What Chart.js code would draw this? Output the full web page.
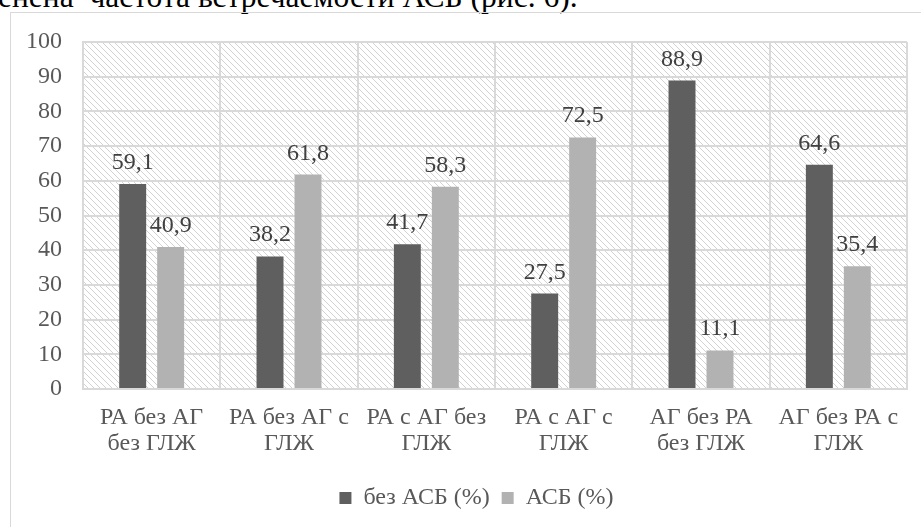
<!DOCTYPE html>
<html>
<head>
<meta charset="utf-8">
<script src="https://cdn.jsdelivr.net/npm/chart.js@4"></script>
<style>
  html, body { margin: 0; padding: 0; background: #fff; overflow: hidden; }
  #wrap { position: relative; width: 921px; height: 527px; overflow: hidden; }
  #para { position: absolute; left: -2px; top: -19px; font-family: "Liberation Serif", serif; font-size: 31.5px; line-height: 1; color: #000; white-space: pre; }
  #frame { position: absolute; left: 10px; top: 12px; width: 1000px; height: 1000px; border-left: 1.5px solid #d9d9d9; border-top: 1.5px solid #d9d9d9; }
  canvas { position: absolute; left: 0; top: 0; }
</style>
</head>
<body>
<div id="wrap">
  <div id="para">енена  частота встречаемости АСБ (рис. 6).</div>
  <div id="frame"></div>
  <canvas id="c" width="921" height="527"></canvas>
</div>
<script>
const categories = [
  ["РА без АГ", "без ГЛЖ"],
  ["РА без АГ с", "ГЛЖ"],
  ["РА с АГ без", "ГЛЖ"],
  ["РА с АГ с", "ГЛЖ"],
  ["АГ без РА", "без ГЛЖ"],
  ["АГ без РА с", "ГЛЖ"]
];
const seriesNames = ["без АСБ (%)", "АСБ (%)"];
const withoutASB = [59.1, 38.2, 41.7, 27.5, 88.9, 64.6];
const withASB = [40.9, 61.8, 58.3, 72.5, 11.1, 35.4];
const yTicks = [0, 10, 20, 30, 40, 50, 60, 70, 80, 90, 100];

const FONT = "'Liberation Serif', 'Times New Roman', serif";
const FS = 24;

function makeHatch() {
  const s = 6;
  const c = document.createElement('canvas');
  c.width = s; c.height = s;
  const g = c.getContext('2d');
  g.fillStyle = '#ffffff';
  g.fillRect(0, 0, s, s);
  g.strokeStyle = '#d2d2d2';
  g.lineWidth = 1;
  for (let k = -1; k <= 1; k++) {
    g.beginPath();
    g.moveTo(k * s, 0);
    g.lineTo(k * s + s, s);
    g.stroke();
  }
  return c;
}
const hatchCanvas = makeHatch();

const hatchBg = {
  id: 'hatchBg',
  beforeDraw(chart) {
    const { ctx, chartArea: a } = chart;
    ctx.save();
    ctx.fillStyle = ctx.createPattern(hatchCanvas, 'repeat');
    ctx.fillRect(a.left, a.top, a.right - a.left, a.bottom - a.top);
    ctx.restore();
  }
};

// the original chart frame is wider than the visible crop, so its legend is centred further right
const legendShift = {
  id: 'legendShift',
  afterLayout(chart) {
    if (chart.legend) {
      chart.legend.left += 23;
      chart.legend.right += 23;
    }
  }
};

const valueLabels = {
  id: 'valueLabels',
  afterDatasetsDraw(chart) {
    const ctx = chart.ctx;
    ctx.save();
    ctx.font = FS + "px " + FONT;
    ctx.fillStyle = '#404040';
    ctx.textAlign = 'center';
    ctx.textBaseline = 'alphabetic';
    chart.data.datasets.forEach((ds, di) => {
      const meta = chart.getDatasetMeta(di);
      meta.data.forEach((bar, i) => {
        const txt = ds.data[i].toFixed(1).replace('.', ',');
        ctx.fillText(txt, bar.x, bar.y - 15);
      });
    });
    ctx.restore();
  }
};

new Chart(document.getElementById('c'), {
  type: 'bar',
  data: {
    labels: categories,
    datasets: [
      { label: seriesNames[0], data: withoutASB, backgroundColor: '#5f5f5f', borderWidth: 0 },
      { label: seriesNames[1], data: withASB, backgroundColor: '#b2b2b2', borderWidth: 0 }
    ]
  },
  options: {
    responsive: false,
    devicePixelRatio: 1,
    animation: false,
    categoryPercentage: 0.553,
    barPercentage: 0.71,
    layout: { padding: { left: 0, right: 14, top: 42, bottom: 7 } },
    plugins: {
      tooltip: { enabled: false },
      legend: {
        position: 'bottom',
        labels: {
          color: '#595959',
          font: { family: FONT, size: FS },
          boxWidth: 12,
          boxHeight: 12,
          padding: 12
        }
      }
    },
    scales: {
      x: {
        grid: { color: '#d9d9d9', lineWidth: 2, drawTicks: false, offset: true },
        border: { color: '#d9d9d9', width: 2 },
        ticks: {
          color: '#595959',
          font: { family: FONT, size: FS, lineHeight: 1.08 },
          padding: 16,
          maxRotation: 0,
          autoSkip: false
        },
        afterFit(scale) { scale.height = 85; }
      },
      y: {
        min: 0,
        max: 100,
        afterBuildTicks(scale) { scale.ticks = yTicks.map(v => ({ value: v })); },
        grid: { color: '#d9d9d9', lineWidth: 2, drawTicks: false },
        border: { color: '#d9d9d9', width: 2 },
        ticks: {
          color: '#595959',
          font: { family: FONT, size: FS },
          padding: 21
        },
        afterFit(scale) { scale.width = 83; }
      }
    }
  },
  plugins: [hatchBg, legendShift, valueLabels]
});
</script>
</body>
</html>
